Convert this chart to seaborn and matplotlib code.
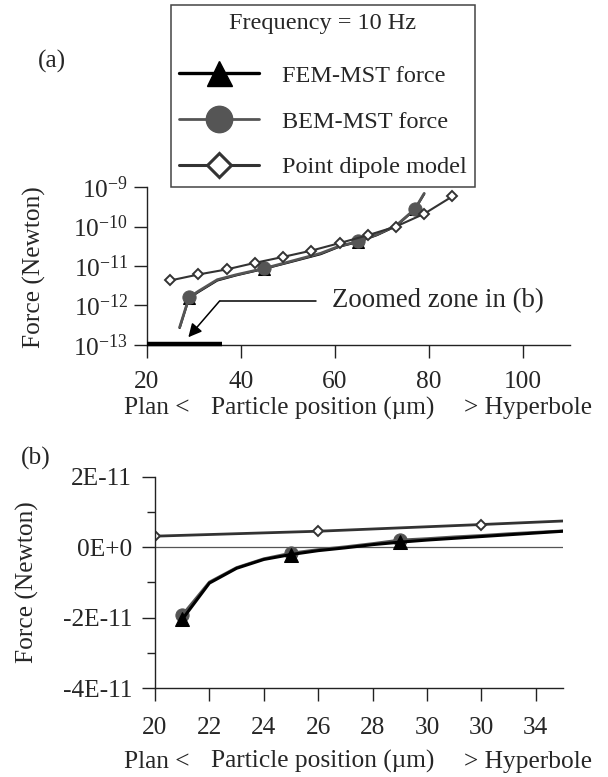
import matplotlib
matplotlib.use("Agg")
import matplotlib.pyplot as plt
import seaborn as sns
from matplotlib.lines import Line2D
from matplotlib.ticker import FixedLocator, NullLocator

# ---- panel (a): full range, log scale ----
pos_a = [27, 29, 31, 35, 39, 45, 51, 57, 61, 65, 69, 73, 77, 79]
bem_a = [2.8e-13, 1.6e-12, 2.3e-12, 4.5e-12, 6.0e-12, 8.7e-12, 1.35e-11,
         2.1e-11, 3.2e-11, 4.2e-11, 6.3e-11, 1.05e-10, 2.75e-10, 6.9e-10]
fem_a = [2.7e-13, 1.55e-12, 2.2e-12, 4.3e-12, 5.8e-12, 8.5e-12, 1.3e-11,
         2.0e-11, 3.1e-11, 4.1e-11, 6.1e-11, 1.02e-10, 2.7e-10, 6.7e-10]
marks_a = [1, 5, 9, 12]  # 29, 45, 65, 77 um
dip_pos_a = [25, 31, 37, 43, 49, 55, 61, 67, 73, 79, 85]
dip_a = [4.3e-12, 6.1e-12, 8.2e-12, 1.2e-11, 1.7e-11, 2.45e-11, 3.8e-11,
         6.0e-11, 1.0e-10, 2.1e-10, 5.8e-10]
zoom_zone = [20, 36]
yticks_a = [1e-13, 1e-12, 1e-11, 1e-10, 1e-9]
ylabels_a = [r"$\mathregular{10^{-13}}$", r"$\mathregular{10^{-12}}$",
             r"$\mathregular{10^{-11}}$", r"$\mathregular{10^{-10}}$",
             r"$\mathregular{10^{-9}}$"]
xticks_a = [20, 40, 60, 80, 100]

# ---- panel (b): zoom 20-35 um, linear ----
pos_b = [21, 22, 23, 24, 25, 26, 27, 28, 29, 30, 31, 32, 33, 34, 35]
fem_b = [-2.05e-11, -1.02e-11, -0.6e-11, -0.35e-11, -0.21e-11, -0.1e-11, -0.02e-11,
         0.07e-11, 0.14e-11, 0.2e-11, 0.25e-11, 0.3e-11, 0.35e-11, 0.4e-11, 0.45e-11]
bem_b = [-1.93e-11, -0.99e-11, -0.58e-11, -0.33e-11, -0.17e-11, -0.07e-11, 0.01e-11,
         0.1e-11, 0.2e-11, 0.24e-11, 0.29e-11, 0.33e-11, 0.38e-11, 0.42e-11, 0.46e-11]
marks_b = [0, 4, 8]  # 21, 25, 29 um
dip_pos_b = [20, 26, 32, 35]
dip_b = [0.31e-11, 0.45e-11, 0.64e-11, 0.74e-11]
marks_dip_b = [0, 1, 2]
yticks_b = [-4e-11, -2e-11, 0, 2e-11]
ylabels_b = ["-4E-11", "-2E-11", "0E+0", "2E-11"]
yminor_b = [-3e-11, -1e-11, 1e-11]
xticks_b = [20, 22, 24, 26, 28, 30, 32, 34]
xlabels_b = ["20", "22", "24", "26", "28", "30", "30", "34"]

sns.set_style("ticks")
plt.rcParams["font.family"] = ["Liberation Serif", "DejaVu Serif"]
plt.rcParams["mathtext.fontset"] = "custom"
plt.rcParams["mathtext.rm"] = "Liberation Serif"
plt.rcParams["axes.edgecolor"] = "#222222"
plt.rcParams["axes.linewidth"] = 1.0

FS = 18.3
BEM_C = "#555555"
DIP_C = "#333333"

fig = plt.figure(figsize=(6.08, 7.77), dpi=100)
ax_a = fig.add_axes([0.2413, 0.556, 0.6962, 0.2033])
ax_b = fig.add_axes([0.2549, 0.1142, 0.6711, 0.2725])

# panel (a)
sns.lineplot(x=pos_a, y=fem_a, ax=ax_a, color="black", linewidth=1.6, marker="^",
             markersize=9, markevery=marks_a, markerfacecolor="black",
             markeredgecolor="black", estimator=None, sort=False)
sns.lineplot(x=pos_a, y=bem_a, ax=ax_a, color=BEM_C, linewidth=2.0, marker="o",
             markersize=9.5, markevery=marks_a, markerfacecolor=BEM_C,
             markeredgecolor=BEM_C, estimator=None, sort=False)
sns.lineplot(x=dip_pos_a, y=dip_a, ax=ax_a, color=DIP_C, linewidth=1.5, marker="D",
             markersize=5.6, markerfacecolor="white", markeredgecolor=DIP_C,
             markeredgewidth=1.4, estimator=None, sort=False)
ax_a.plot(zoom_zone, [1.03e-13, 1.03e-13], color="black", linewidth=3.2,
          solid_capstyle="butt", clip_on=False, zorder=5)
ax_a.set_yscale("log")
ax_a.set_xlim(20, 110)
ax_a.set_ylim(1e-13, 1e-9)
ax_a.yaxis.set_major_locator(FixedLocator(yticks_a))
ax_a.yaxis.set_minor_locator(NullLocator())
ax_a.set_yticklabels(ylabels_a)
ax_a.set_xticks(xticks_a)
ax_a.tick_params(axis="both", direction="out", length=9.5, width=1.0,
                 color="#222222", labelsize=FS)
ax_a.tick_params(axis="x", pad=9)
ax_a.tick_params(axis="y", pad=4)

# zoomed-zone annotation
ax_a.plot([56.0, 35.5], [1.3e-12, 1.3e-12], color="black", linewidth=1.1)
ax_a.annotate("", xy=(28.85, 1.57e-13), xytext=(35.5, 1.3e-12),
              arrowprops=dict(arrowstyle="-|>", color="black", lw=1.1,
                              mutation_scale=20, shrinkA=0, shrinkB=0))
ax_a.text(59.3, 1.3e-12, "Zoomed zone in (b)", fontsize=19.3, va="center", ha="left")

# panel (b)
ax_b.axhline(0, color="#555555", linewidth=0.9, zorder=1)
sns.lineplot(x=pos_b, y=bem_b, ax=ax_b, color=BEM_C, linewidth=2.0, marker="o",
             markersize=9.5, markevery=marks_b, markerfacecolor=BEM_C,
             markeredgecolor=BEM_C, estimator=None, sort=False)
sns.lineplot(x=pos_b, y=fem_b, ax=ax_b, color="black", linewidth=2.2, marker="^",
             markersize=10.5, markevery=marks_b, markerfacecolor="black",
             markeredgecolor="black", estimator=None, sort=False)
sns.lineplot(x=dip_pos_b, y=dip_b, ax=ax_b, color=DIP_C, linewidth=2.0, marker="D",
             markersize=5.4, markevery=marks_dip_b, markerfacecolor="white",
             markeredgecolor=DIP_C, markeredgewidth=1.4, estimator=None, sort=False)
ax_b.set_xlim(20, 35)
ax_b.set_ylim(-4e-11, 2e-11)
ax_b.set_yticks(yticks_b)
ax_b.set_yticklabels(ylabels_b)
ax_b.yaxis.set_minor_locator(FixedLocator(yminor_b))
ax_b.set_xticks(xticks_b)
ax_b.set_xticklabels(xlabels_b)
ax_b.tick_params(axis="both", which="major", direction="out", length=9.5, width=1.0,
                 color="#222222", labelsize=FS)
ax_b.tick_params(axis="x", pad=11)
ax_b.tick_params(axis="y", pad=7)
ax_b.tick_params(axis="y", which="minor", direction="out", length=6, width=1.0,
                 color="#222222")

for ax in (ax_a, ax_b):
    sns.despine(ax=ax)
    ax.set_xlabel("")
    ax.set_ylabel("")

# axis titles
for yc in (0.4749, 0.0197):
    fig.text(0.2039, yc, "Plan <", fontsize=FS, ha="left", va="center")
    fig.text(0.347, yc, "Particle position (\u00b5m)", fontsize=FS, ha="left", va="center")
    fig.text(0.9745, yc, "> Hyperbole", fontsize=FS, ha="right", va="center")
fig.text(0.0559, 0.6564, "Force (Newton)", fontsize=FS, rotation=90, ha="center", va="center")
fig.text(0.0452, 0.2503, "Force (Newton)", fontsize=FS, rotation=90, ha="center", va="center")
fig.text(0.085, 0.9215, "(a)", fontsize=FS, ha="center", va="center")
fig.text(0.0592, 0.4106, "(b)", fontsize=FS, ha="center", va="center")

# legend
handles = [
    Line2D([], [], color="black", linewidth=2.4, marker="^", markersize=18,
           markerfacecolor="black", markeredgecolor="black"),
    Line2D([], [], color=BEM_C, linewidth=2.0, marker="o", markersize=19,
           markerfacecolor=BEM_C, markeredgecolor=BEM_C),
    Line2D([], [], color=DIP_C, linewidth=2.2, marker="D", markersize=12.5,
           markerfacecolor="white", markeredgecolor=DIP_C, markeredgewidth=2.2),
]
labels = ["FEM-MST force", "BEM-MST force", "Point dipole model"]
leg = fig.legend(handles, labels, title="Frequency = 10 Hz", loc="upper left",
                 bbox_to_anchor=(0.2805, 0.9936), borderaxespad=0, frameon=True,
                 fancybox=False, edgecolor="#444444", framealpha=1, fontsize=17.5,
                 title_fontsize=17.5, handlelength=3.3, handletextpad=0.95,
                 labelspacing=0.98, borderpad=0.34)
leg.get_frame().set_linewidth(1.1)
leg._legend_box.sep = 21.9  # extra room under the title

fig.savefig("out.png", dpi=100)
